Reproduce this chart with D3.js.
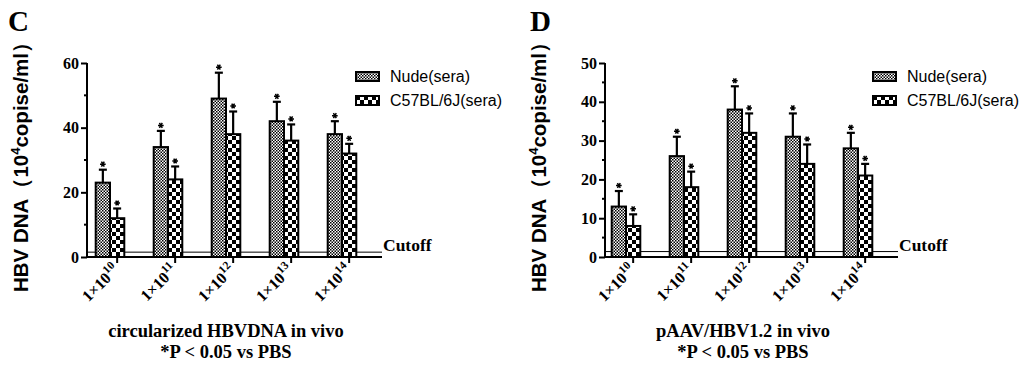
<!DOCTYPE html>
<html>
<head>
<meta charset="utf-8">
<script src="https://cdn.jsdelivr.net/npm/d3@7"></script>
<style>
  body { margin: 0; background: #fff; }
  svg { display: block; }
</style>
</head>
<body>
<div class="chart"></div>
<script>
// data
const doses = ["10", "11", "12", "13", "14"];
const seriesNames = ["Nude(sera)", "C57BL/6J(sera)"];

const nudeC = [23, 34, 49, 42, 38];
const nudeCErr = [4, 5, 8, 6, 4];
const c57C = [12, 24, 38, 36, 32];
const c57CErr = [3, 4, 7, 5, 3];

const nudeD = [13, 26, 38, 31, 28];
const nudeDErr = [4, 5, 6, 6, 4];
const c57D = [8, 18, 32, 24, 21];
const c57DErr = [3, 4, 5, 5, 3];

const yTicksC = [0, 20, 40, 60];
const yTicksD = [0, 10, 20, 30, 40, 50];
const cutoffC = 1.5;
const cutoffD = 1.4;

const w = 1024;
const h = 365;
const serif = "'Liberation Serif', 'Times New Roman', serif";
const sans = "'Liberation Sans', Arial, sans-serif";

const svg = d3.select(".chart")
              .append("svg")
              .attr("width", w)
              .attr("height", h);

// fill patterns for the two series
const defs = svg.append("defs");

const fine = defs.append("pattern")
                 .attr("id", "pat-nude")
                 .attr("patternUnits", "userSpaceOnUse")
                 .attr("width", 3)
                 .attr("height", 3);
fine.append("rect").attr("width", 3).attr("height", 3).attr("fill", "#fff");
fine.append("rect").attr("width", 1.5).attr("height", 1.5).attr("fill", "#000");
fine.append("rect").attr("x", 1.5).attr("y", 1.5).attr("width", 1.5).attr("height", 1.5).attr("fill", "#000");

const coarse = defs.append("pattern")
                   .attr("id", "pat-c57")
                   .attr("patternUnits", "userSpaceOnUse")
                   .attr("width", 8)
                   .attr("height", 8);
coarse.append("rect").attr("width", 8).attr("height", 8).attr("fill", "#fff");
coarse.append("rect").attr("width", 4).attr("height", 4).attr("fill", "#000");
coarse.append("rect").attr("x", 4).attr("y", 4).attr("width", 4).attr("height", 4).attr("fill", "#000");

const patterns = ["url(#pat-nude)", "url(#pat-c57)"];

const star = d3.symbol().type(d3.symbolAsterisk).size(22);

function drawPanel(cfg) {
    const g = svg.append("g");

    const y = d3.scaleLinear()
                .domain([0, cfg.yMax])
                .range([cfg.y0, cfg.yTop]);

    const x0 = d3.scaleBand()
                 .domain(doses)
                 .range([cfg.bandStart, cfg.bandStart + 58 * doses.length]);

    const barW = 14.3;
    const x1 = d3.scaleBand()
                 .domain(seriesNames)
                 .range([x0.bandwidth() / 2 - barW, x0.bandwidth() / 2 + barW]);

    // panel letter
    g.append("text")
     .attr("x", cfg.letterX)
     .attr("y", 31)
     .attr("font-family", serif)
     .attr("font-weight", "bold")
     .attr("font-size", 29)
     .text(cfg.letter);

    // y axis
    const yAxis = d3.axisLeft(y)
                    .tickValues(cfg.yTicks)
                    .tickSize(6)
                    .tickPadding(2);
    const ya = g.append("g")
                .attr("transform", `translate(${cfg.axisX},0)`)
                .call(yAxis);
    ya.select(".domain").attr("stroke-width", 2).attr("d", `M0,${cfg.y0}V${cfg.yTop}`);
    ya.selectAll(".tick line").attr("stroke-width", 2);
    ya.selectAll(".tick text")
      .attr("font-family", serif)
      .attr("font-weight", "bold")
      .attr("font-size", 16)
      .attr("fill", "#000");

    // minor ticks
    const step = cfg.yTicks[1] - cfg.yTicks[0];
    const minor = cfg.yTicks.slice(0, -1).map(v => v + step / 2);
    g.append("g").selectAll("line")
     .data(minor)
     .enter()
     .append("line")
     .attr("x1", cfg.axisX - 3)
     .attr("x2", cfg.axisX)
     .attr("y1", d => y(d))
     .attr("y2", d => y(d))
     .attr("stroke", "#000")
     .attr("stroke-width", 2);

    // y axis title
    const yt = g.append("text")
                .attr("transform", `translate(${cfg.titleX},${cfg.titleY}) rotate(-90)`)
                .attr("text-anchor", "middle")
                .attr("font-family", sans)
                .attr("font-weight", "bold")
                .attr("font-size", 20.5);
    yt.append("tspan").text("HBV DNA（10");
    yt.append("tspan").attr("font-size", 13).attr("dy", -8).text("4");
    yt.append("tspan").attr("dy", 8).text("copise/ml）");

    // cutoff line
    g.append("line")
     .attr("x1", cfg.axisX)
     .attr("x2", cfg.axisEnd)
     .attr("y1", y(cfg.cutoff))
     .attr("y2", y(cfg.cutoff))
     .attr("stroke", "#000")
     .attr("stroke-width", 1);

    g.append("text")
     .attr("x", cfg.axisEnd + 1)
     .attr("y", y(cfg.cutoff) - 1)
     .attr("font-family", serif)
     .attr("font-weight", "bold")
     .attr("font-size", 17.5)
     .text("Cutoff");

    // bars
    const rows = [];
    doses.forEach((d, i) => {
        rows.push({dose: d, s: 0, v: cfg.nude[i], e: cfg.nudeErr[i]});
        rows.push({dose: d, s: 1, v: cfg.c57[i], e: cfg.c57Err[i]});
    });

    const bx = d => x0(d.dose) + x1(seriesNames[d.s]);
    const cx = d => bx(d) + barW / 2;

    // error bars first so the bar outline sits on top
    g.append("g").selectAll("line")
     .data(rows)
     .enter()
     .append("line")
     .attr("x1", cx)
     .attr("x2", cx)
     .attr("y1", d => y(d.v))
     .attr("y2", d => y(d.v + d.e))
     .attr("stroke", "#000")
     .attr("stroke-width", 2.2);

    g.append("g").selectAll("line")
     .data(rows)
     .enter()
     .append("line")
     .attr("x1", d => cx(d) - 4)
     .attr("x2", d => cx(d) + 4)
     .attr("y1", d => y(d.v + d.e))
     .attr("y2", d => y(d.v + d.e))
     .attr("stroke", "#000")
     .attr("stroke-width", 2.2);

    g.append("g").selectAll("rect")
     .data(rows)
     .enter()
     .append("rect")
     .attr("x", bx)
     .attr("y", d => y(d.v))
     .attr("width", barW)
     .attr("height", d => y(0) - y(d.v))
     .attr("fill", d => patterns[d.s])
     .attr("stroke", "#000")
     .attr("stroke-width", 2);

    // significance stars
    g.append("g").selectAll("path")
     .data(rows)
     .enter()
     .append("path")
     .attr("transform", d => `translate(${cx(d)},${y(d.v + d.e) - 5.5}) rotate(90)`)
     .attr("d", star)
     .attr("fill", "none")
     .attr("stroke", "#000")
     .attr("stroke-width", 1.5);

    // x axis
    g.append("line")
     .attr("x1", cfg.axisX - 1)
     .attr("x2", cfg.axisEnd)
     .attr("y1", y(0))
     .attr("y2", y(0))
     .attr("stroke", "#000")
     .attr("stroke-width", 2);

    const tickX = d => x0(d) + x1(seriesNames[1]) + barW / 2;

    g.append("g").selectAll("line")
     .data(doses)
     .enter()
     .append("line")
     .attr("x1", tickX)
     .attr("x2", tickX)
     .attr("y1", y(0))
     .attr("y2", y(0) + 6)
     .attr("stroke", "#000")
     .attr("stroke-width", 2);

    const xl = g.append("g").selectAll("text")
                .data(doses)
                .enter()
                .append("text")
                .attr("transform", d => `translate(${tickX(d) + 3},${y(0) + 14}) rotate(-45)`)
                .attr("text-anchor", "end")
                .attr("font-family", serif)
                .attr("font-weight", "bold")
                .attr("font-size", 16);
    xl.append("tspan").text("1×10");
    xl.append("tspan").attr("font-size", 11.5).attr("dy", -7).text(d => d);

    // x axis title
    g.append("text")
     .attr("x", cfg.xTitleX)
     .attr("y", 337)
     .attr("text-anchor", "middle")
     .attr("font-family", serif)
     .attr("font-weight", "bold")
     .attr("font-size", 18.5)
     .text(cfg.xTitle);

    g.append("text")
     .attr("x", cfg.xTitleX)
     .attr("y", 358)
     .attr("text-anchor", "middle")
     .attr("font-family", serif)
     .attr("font-weight", "bold")
     .attr("font-size", 18.5)
     .text("*P < 0.05 vs PBS");

    // legend
    const leg = g.append("g").selectAll("g")
                 .data(seriesNames)
                 .enter()
                 .append("g")
                 .attr("transform", (d, i) => `translate(${cfg.legendX},${72 + i * 24})`);
    leg.append("rect")
       .attr("width", 23)
       .attr("height", 9)
       .attr("fill", (d, i) => patterns[i])
       .attr("stroke", "#000")
       .attr("stroke-width", 2);
    leg.append("text")
       .attr("x", 34)
       .attr("y", 10)
       .attr("font-family", sans)
       .attr("font-size", 16)
       .text(d => d);
}

drawPanel({
    letter: "C", letterX: 8,
    axisX: 87, axisEnd: 382, bandStart: 81,
    y0: 257, yTop: 63, yMax: 60, yTicks: yTicksC,
    titleX: 28, titleY: 162,
    nude: nudeC, nudeErr: nudeCErr, c57: c57C, c57Err: c57CErr,
    cutoff: cutoffC,
    xTitle: "circularized HBVDNA in vivo", xTitleX: 226,
    legendX: 356
});

drawPanel({
    letter: "D", letterX: 530,
    axisX: 605, axisEnd: 898, bandStart: 597,
    y0: 257, yTop: 63, yMax: 50, yTicks: yTicksD,
    titleX: 546, titleY: 162,
    nude: nudeD, nudeErr: nudeDErr, c57: c57D, c57Err: c57DErr,
    cutoff: cutoffD,
    xTitle: "pAAV/HBV1.2 in vivo", xTitleX: 743,
    legendX: 873
});
</script>
</body>
</html>
